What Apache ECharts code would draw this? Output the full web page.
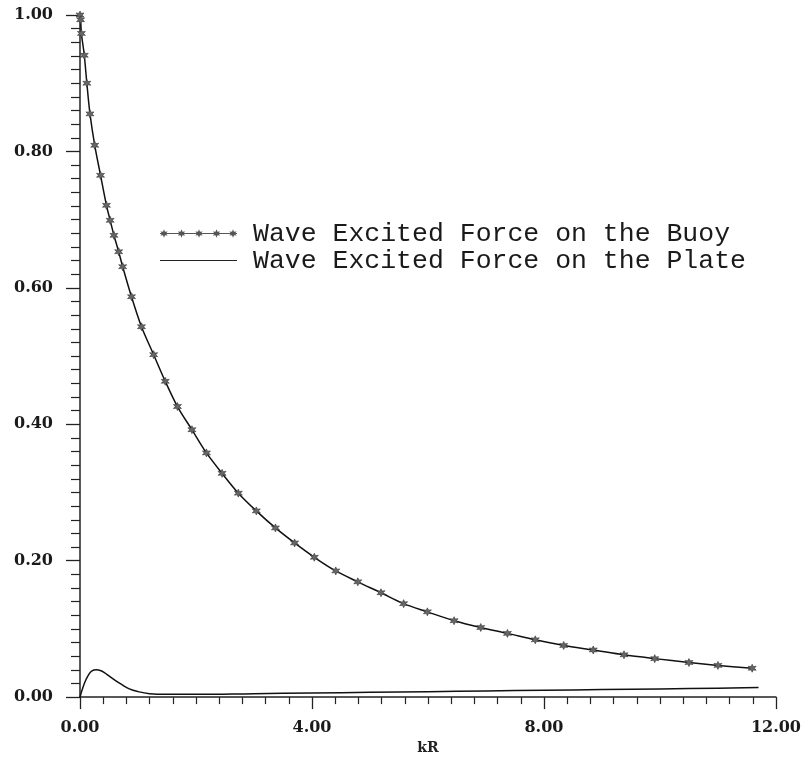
<!DOCTYPE html>
<html>
<head>
<meta charset="utf-8">
<script src="https://cdn.jsdelivr.net/npm/echarts@6/dist/echarts.min.js"></script>
<style>
html,body{margin:0;padding:0;background:#fff;}
#chart{width:804px;height:760px;}
</style>
</head>
<body>
<div id="chart"></div>
<script>
// ---- data ----
const seriesNames = ['Wave Excited Force on the Buoy', 'Wave Excited Force on the Plate'];
const buoyKR = [0, 0.01, 0.024, 0.074, 0.118, 0.172, 0.254, 0.354, 0.456, 0.52, 0.585, 0.667, 0.736, 0.888, 1.06, 1.27, 1.47, 1.68, 1.93, 2.18, 2.45, 2.73, 3.04, 3.37, 3.70, 4.04, 4.41, 4.79, 5.19, 5.58, 5.99, 6.45, 6.91, 7.37, 7.85, 8.34, 8.85, 9.38, 9.91, 10.50, 11.0, 11.59];
const buoyVal = [1.0, 0.993, 0.973, 0.941, 0.900, 0.855, 0.809, 0.765, 0.721, 0.699, 0.677, 0.653, 0.631, 0.587, 0.543, 0.502, 0.463, 0.426, 0.392, 0.358, 0.328, 0.299, 0.273, 0.248, 0.226, 0.205, 0.185, 0.169, 0.153, 0.137, 0.125, 0.112, 0.102, 0.0934, 0.084, 0.0757, 0.0691, 0.062, 0.0564, 0.0507, 0.0465, 0.0423];
const plateKR = [0, 0.05, 0.1, 0.15, 0.2, 0.28, 0.35, 0.42, 0.5, 0.6, 0.71, 0.85, 1.0, 1.2, 1.5, 2.0, 3.0, 4.0, 5.0, 6.0, 7.0, 8.0, 9.0, 10.0, 11.0, 11.7];
const plateVal = [0, 0.014, 0.025, 0.033, 0.038, 0.040, 0.039, 0.036, 0.031, 0.025, 0.019, 0.012, 0.008, 0.005, 0.004, 0.004, 0.005, 0.006, 0.007, 0.008, 0.009, 0.010, 0.011, 0.012, 0.013, 0.014];
const xTicks = [0, 4, 8, 12];
const yTicks = [0, 0.2, 0.4, 0.6, 0.8, 1.0];

// ---- styling helpers ----
function starPts(cx, cy, rO, rI, n) {
  let s = '';
  for (let i = 0; i < 2 * n; i++) {
    const r = i % 2 === 0 ? rO : rI;
    const a = -Math.PI / 2 + i * Math.PI / n;
    s += (i === 0 ? 'M' : 'L') + (cx + r * Math.cos(a)).toFixed(2) + ' ' + (cy + r * Math.sin(a)).toFixed(2) + ' ';
  }
  return s + 'Z ';
}
const starSymbol = 'path://' + starPts(5, 5, 5, 2.4, 6);
let legendIcon = 'path://M0 4.4 L77 4.4 L77 5.6 L0 5.6 Z ';
[4, 21.5, 39, 56.5, 73].forEach(x => { legendIcon += starPts(x, 5, 4.2, 2, 6); });
const plateIcon = 'path://M0 4.4 L77 4.4 L77 5.6 L0 5.6 Z';

const chart = echarts.init(document.getElementById('chart'));
const labelFont = 'DejaVu Serif';
chart.setOption({
  animation: false,
  backgroundColor: '#ffffff',
  grid: { left: 80, right: 24, top: 15, bottom: 54, containLabel: false },
  legend: {
    orient: 'vertical',
    left: 155,
    top: 215,
    itemWidth: 77,
    itemHeight: 10,
    itemGap: 0,
    data: [
      { name: seriesNames[0], icon: legendIcon, itemStyle: { color: '#555', borderWidth: 0 } },
      { name: seriesNames[1], icon: plateIcon, itemStyle: { color: '#222', borderWidth: 0 } }
    ],
    textStyle: { fontFamily: 'Liberation Mono', fontSize: 26.5, color: '#1a1a1a', lineHeight: 27, padding: [0, 0, 0, 11] }
  },
  xAxis: {
    type: 'value',
    min: 0, max: 12, interval: 4,
    name: 'kR', nameLocation: 'middle', nameGap: 43,
    nameTextStyle: { fontFamily: labelFont, fontWeight: 'bold', fontSize: 14, color: '#222' },
    axisLine: { show: true, onZero: false, lineStyle: { color: '#222', width: 1.5 } },
    axisTick: { show: true, inside: false, length: 12, lineStyle: { color: '#222', width: 1.3 } },
    minorTick: { show: true, splitNumber: 10, length: 7, lineStyle: { color: '#222', width: 1.2 } },
    splitLine: { show: false },
    axisLabel: { margin: 23, fontFamily: labelFont, fontWeight: 'bold', fontSize: 16, color: '#1a1a1a',
      formatter: v => xTicks.includes(v) ? v.toFixed(2) : '' }
  },
  yAxis: {
    type: 'value',
    min: 0, max: 1, interval: 0.2,
    axisLine: { show: true, onZero: false, lineStyle: { color: '#222', width: 1.5 } },
    axisTick: { show: true, inside: false, length: 14, lineStyle: { color: '#222', width: 1.3 } },
    minorTick: { show: true, splitNumber: 10, length: 9, lineStyle: { color: '#222', width: 1.2 } },
    splitLine: { show: false },
    axisLabel: { margin: 27, fontFamily: labelFont, fontWeight: 'bold', fontSize: 16, color: '#1a1a1a',
      formatter: v => yTicks.some(t => Math.abs(t - v) < 1e-9) ? v.toFixed(2) : '' }
  },
  series: [
    {
      name: seriesNames[0],
      type: 'line',
      data: buoyKR.map((k, i) => [k, buoyVal[i]]),
      smooth: 0.3,
      symbol: starSymbol,
      symbolSize: 8,
      showSymbol: true,
      lineStyle: { color: '#111', width: 1.5 },
      itemStyle: { color: '#666', borderColor: '#333', borderWidth: 0.6 },
      z: 3
    },
    {
      name: seriesNames[1],
      type: 'line',
      data: plateKR.map((k, i) => [k, plateVal[i]]),
      smooth: 0.4,
      symbol: 'none',
      lineStyle: { color: '#111', width: 1.5 },
      itemStyle: { color: '#222' },
      z: 2
    }
  ]
});
</script>
</body>
</html>
